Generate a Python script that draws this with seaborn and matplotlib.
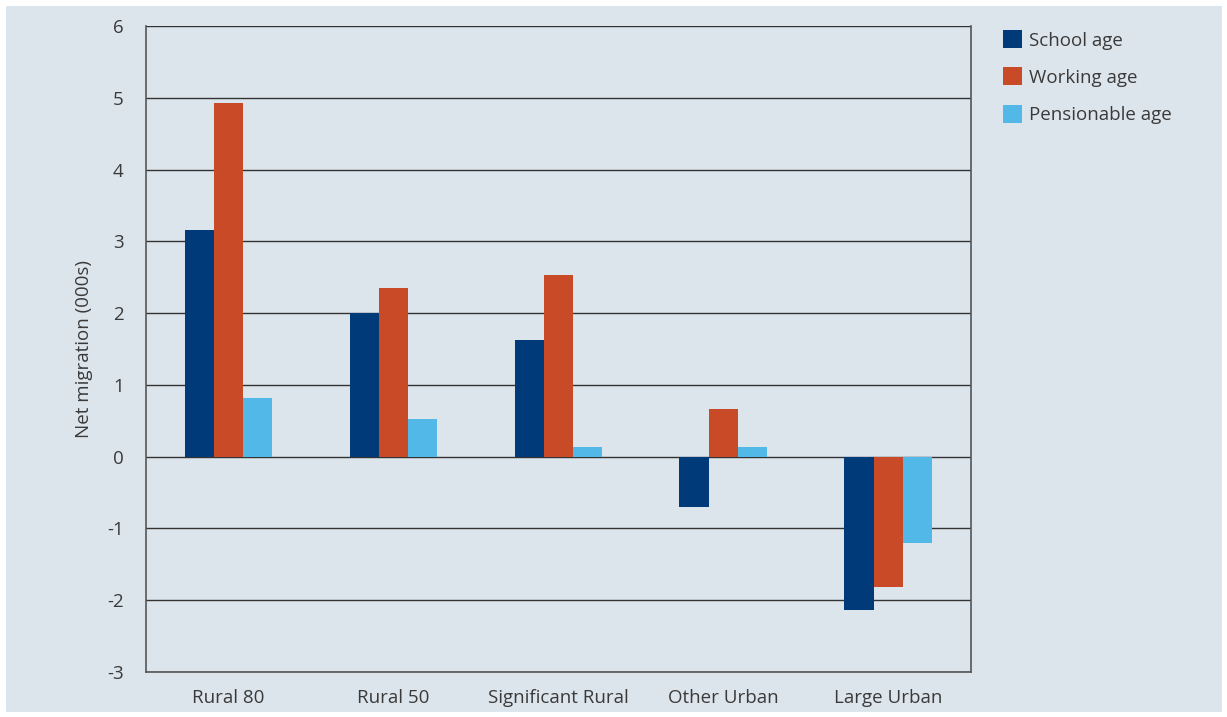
import numpy as np
import pandas as pd
import matplotlib.pyplot as plt
import seaborn as sns

areas = ['Rural 80', 'Rural 50', 'Significant Rural', 'Other Urban', 'Large Urban']
groups = ['School age', 'Working age', 'Pensionable age']
school = [3.16, 2.0, 1.62, -0.70, -2.14]
working = [4.92, 2.35, 2.53, 0.67, -1.82]
pension = [0.81, 0.52, 0.13, 0.13, -1.21]
colors = ['#003a78', '#c84a26', '#52b8e8']

df = pd.DataFrame({'Area': areas * 3,
                   'Group': np.repeat(groups, len(areas)),
                   'Value': school + working + pension})

bg = '#dde5ec'
sns.set_style('white')
plt.rcParams['font.family'] = ['Open Sans', 'DejaVu Sans']
plt.rcParams['axes.unicode_minus'] = False

fig = plt.figure(figsize=(12.27, 7.17), dpi=100, facecolor=bg)
ax = fig.add_axes([0.119, 0.0628, 0.672, 0.901])
ax.set_facecolor(bg)

sns.barplot(data=df, x='Area', y='Value', hue='Group', palette=colors,
            width=0.53, gap=0, saturation=1, errorbar=None, ax=ax,
            linewidth=0, zorder=3)

ax.set_ylim(-3, 6)
ax.set_yticks(range(-3, 7))
ax.set_xlim(-0.5, 4.5)
ax.yaxis.grid(True, color='#333333', linewidth=1)
ax.set_axisbelow(True)
for s in ax.spines.values():
    s.set_color('#555555')
    s.set_linewidth(1.2)
ax.spines['top'].set_visible(False)
ax.tick_params(axis='both', length=0, labelsize=13.5, colors='#3a3a3a', pad=12)
ax.tick_params(axis='y', pad=16)
ax.set_xlabel('')
ax.set_ylabel('Net migration (000s)', fontsize=13.5, color='#3a3a3a', labelpad=10)

ax.legend(loc='upper left', bbox_to_anchor=(1.03, 1.005), frameon=False,
          fontsize=13.5, labelcolor='#3a3a3a', handlelength=1.0, handleheight=1.1,
          handletextpad=0.4, labelspacing=0.95, borderaxespad=0)

fig.patches.append(plt.Rectangle((0, 0), 1, 1, transform=fig.transFigure,
                                 fill=False, edgecolor='white', linewidth=8))
fig.savefig('out.png', dpi=100, facecolor=bg)
